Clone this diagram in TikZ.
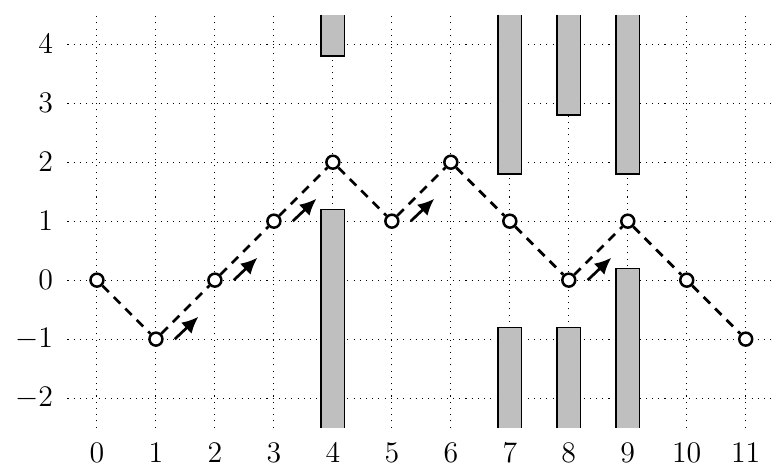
\documentclass[tikz,border=0pt]{standalone}
\usetikzlibrary{calc,arrows.meta}
\tikzset{
  gridline/.style={line width=0.5pt, dash pattern=on 0.5pt off 2.5pt},
  barfill/.style={fill=black!25},
  baredge/.style={draw=black, semithick},
  pt/.style={circle, draw=black, fill=white, line width=1.2pt, inner sep=0pt, minimum size=0.22cm},
  walk/.style={line width=1.3pt, dash pattern=on 4.4pt off 3.4pt},
  move/.style={line width=1.3pt, -{Latex[length=2.8mm,width=2.6mm]}},
  ticklab/.style={inner sep=0pt, font=\Large}
}
\begin{document}
\begin{tikzpicture}
\useasboundingbox (-1.644,-3.22) rectangle (11.53,4.75);
% grid
\foreach \x in {0,...,11} \draw[gridline] (\x,-2.5) -- (\x,4.5);
\foreach \y in {-2,...,4} \draw[gridline] (-0.5,\y) -- (11.5,\y);
% bars: top parts (bottom y) and bottom parts (top y)
\foreach \x/\b in {4/3.8, 7/1.8, 8/2.8, 9/1.8} {
  \fill[barfill] (\x-0.2,\b) rectangle (\x+0.2,4.5);
  \draw[baredge] (\x-0.2,4.5) -- (\x-0.2,\b) -- (\x+0.2,\b) -- (\x+0.2,4.5);
}
\foreach \x/\t in {4/1.2, 7/-0.8, 8/-0.8, 9/0.2} {
  \fill[barfill] (\x-0.2,-2.5) rectangle (\x+0.2,\t);
  \draw[baredge] (\x-0.2,-2.5) -- (\x-0.2,\t) -- (\x+0.2,\t) -- (\x+0.2,-2.5);
}
% tick labels
\foreach \x in {0,...,11} \node[ticklab] (xl\x) at (\x,-2.93) {$\x$};
\foreach \y in {-2,...,4} \node[ticklab, anchor=east] (yl\y) at (-0.74,\y) {$\y$};
% points
\foreach \i/\y in {0/0,1/-1,2/0,3/1,4/2,5/1,6/2,7/1,8/0,9/1,10/0,11/-1}
  \node[pt] (p\i) at (\i,\y) {};
% walk
\foreach \i [evaluate=\i as \j using int(\i+1)] in {0,...,10}
  \draw[walk] (p\i) -- (p\j);
% move arrows
\foreach \i in {1,2,3,5,8} {
  \coordinate (s\i) at ($(p\i)+(0.32,0)$);
  \coordinate (e\i) at ($(p\i)+(0.72,0.38)$);
  \draw[move] (s\i) -- (e\i);
}
\end{tikzpicture}
\end{document}
